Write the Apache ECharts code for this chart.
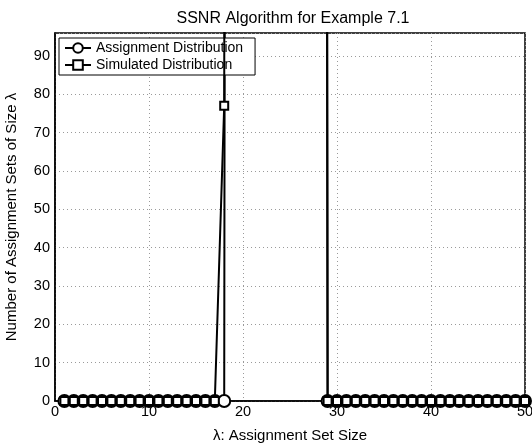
<!DOCTYPE html>
<html><head><meta charset="utf-8">
<script src="https://cdn.jsdelivr.net/npm/echarts@6/dist/echarts.min.js"></script>
<style>html,body{margin:0;padding:0;background:#fff}#c{width:532px;height:447px}</style>
</head><body><div id="c"></div>
<script>
var lambdaValues = [1,2,3,4,5,6,7,8,9,10,11,12,13,14,15,16,17,18,19,20,21,22,23,24,25,26,27,28,29,30,31,32,33,34,35,36,37,38,39,40,41,42,43,44,45,46,47,48,49,50];
var assignmentDist = [0,0,0,0,0,0,0,0,0,0,0,0,0,0,0,0,0,0,2000,2000,2000,2000,2000,2000,2000,2000,2000,2000,0,0,0,0,0,0,0,0,0,0,0,0,0,0,0,0,0,0,0,0,0,0];
var simulatedDist = [0,0,0,0,0,0,0,0,0,0,0,0,0,0,0,0,0,77,2000,2000,2000,2000,2000,2000,2000,2000,2000,2000,0,0,0,0,0,0,0,0,0,0,0,0,0,0,0,0,0,0,0,0,0,0];
var xTicks = [0,10,20,30,40,50];
var yTicks = [0,10,20,30,40,50,60,70,80,90];

var FONT = "'Liberation Sans', Arial, Helvetica, sans-serif";
function pairs(ys){ return lambdaValues.map(function(x,i){ return [x, ys[i]]; }); }
var chart = echarts.init(document.getElementById('c'), null, {renderer:'canvas'});
var gridLine = {show:true, lineStyle:{color:'#9a9a9a', type:[1,3], width:1}};
chart.setOption({
  animation:false,
  textStyle:{fontFamily:FONT},
  title:{text:'SSNR Algorithm for Example 7.1', left:288, textAlign:'center', top:6,
    textStyle:{fontSize:16, fontWeight:'normal', color:'#000', fontFamily:FONT}},
  grid:{left:55, right:7, top:33, bottom:46, containLabel:false, outerBoundsMode:'none',
    show:true, borderColor:'#000', borderWidth:1.5, backgroundColor:'#fff'},
  legend:{
    orient:'vertical', left:59, top:38, backgroundColor:'#fff', borderColor:'#000', borderWidth:1,
    padding:[3,12,3,5], itemGap:3, itemWidth:26, itemHeight:12,
    textStyle:{fontSize:14, color:'#000', fontFamily:FONT},
    data:['Assignment Distribution','Simulated Distribution']
  },
  xAxis:{
    type:'value', min:xTicks[0], max:xTicks[xTicks.length-1], interval:10,
    name:'λ: Assignment Set Size', nameLocation:'middle', nameGap:27,
    nameTextStyle:{fontSize:15, color:'#000', fontFamily:FONT},
    axisLine:{show:true, onZero:false, lineStyle:{color:'#000', width:1.5}},
    axisTick:{show:false},
    axisLabel:{fontSize:14.5, color:'#000', margin:3, fontFamily:FONT},
    splitLine:gridLine
  },
  yAxis:{
    type:'value', min:yTicks[0], max:96, interval:10,
    name:'Number of Assignment Sets of Size λ', nameLocation:'middle', nameGap:36,
    nameTextStyle:{fontSize:15, color:'#000', fontFamily:FONT},
    axisLine:{show:true, onZero:false, lineStyle:{color:'#000', width:1.5}},
    axisTick:{show:false},
    axisLabel:{fontSize:14.5, color:'#000', margin:5, showMaxLabel:false, fontFamily:FONT},
    splitLine:gridLine
  },
  series:[{
    name:'Assignment Distribution', type:'line', data:pairs(assignmentDist), clip:true,
    symbol:'circle', symbolSize:12, showAllSymbol:true,
    lineStyle:{color:'#000', width:2}, itemStyle:{color:'#fff', borderColor:'#000', borderWidth:2}, z:3
  },{
    name:'Simulated Distribution', type:'line', data:pairs(simulatedDist), clip:true,
    symbol:'rect', symbolSize:8, showAllSymbol:true,
    lineStyle:{color:'#000', width:2}, itemStyle:{color:'#fff', borderColor:'#000', borderWidth:2}, z:4
  }]
});
</script></body></html>
